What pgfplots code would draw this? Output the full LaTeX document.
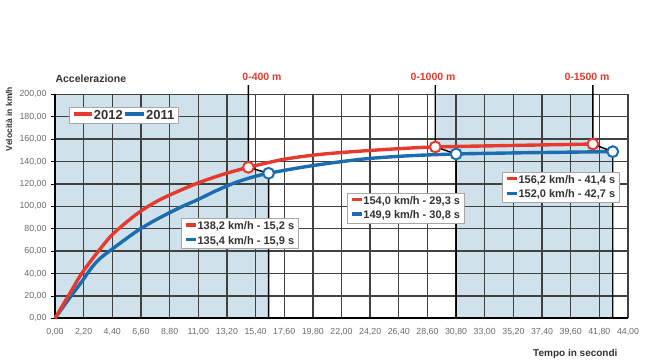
\documentclass[border=0pt]{standalone}
\usepackage{pgfplots}
\pgfplotsset{compat=1.18}
\usepackage{fontspec}
\setmainfont{Liberation Sans}
\definecolor{r12}{HTML}{E63A2E}
\definecolor{b11}{HTML}{1C6DB0}
\definecolor{shade}{HTML}{CFE1EB}
\definecolor{gridc}{HTML}{404040}
\definecolor{txt}{HTML}{333333}
\definecolor{tick}{HTML}{6A6A6A}
\newcommand{\fs}[1]{\fontsize{#1bp}{#1bp}\selectfont}
\newcommand{\dash}[1]{{\color{#1}\rule[0.28em]{10bp}{3.2bp}}}
\begin{document}
\begin{tikzpicture}[x=1bp,y=1bp]
\path (0,0) rectangle (650,360);
\begin{axis}[
  at={(55bp,41.7bp)}, anchor=south west,
  set layers, scale only axis, width=573bp, height=224bp,
  xmin=0, xmax=44, ymin=0, ymax=200, clip=false,
  axis x line*=bottom, axis y line*=left,
  axis line style={black, line width=1.9bp},
  xtick={0,2.2,4.4,6.6,8.8,11,13.2,15.4,17.6,19.8,22,24.2,26.4,28.6,30.8,33,35.2,37.4,39.6,41.8,44},
  xticklabels={{0,00},{2,20},{4,40},{6,60},{8,80},{11,00},{13,20},{15,40},{17,60},{19,80},{22,00},{24,20},{26,40},{28,60},{30,80},{33,00},{35,20},{37,40},{39,60},{41,80},{44,00}},
  ytick={0,20,...,200},
  yticklabels={{0,00},{20,00},{40,00},{60,00},{80,00},{100,00},{120,00},{140,00},{160,00},{180,00},{200,00}},
  xtick style={draw=none},
  ytick style={black, line width=0.8bp},
  tick align=outside, major tick length=4bp,
  tick label style={font=\fs{8.8}, text=tick},
  xticklabel style={yshift=-3bp},
  yticklabel style={xshift=-1bp},
  grid=major, major grid style={draw=gridc, line width=1.35bp},
]
% shaded areas
\addplot[fill=shade, draw=none, on layer=axis background] coordinates {(0,0) (0,200) (14.85,200) (14.85,134.8) (16.4,129.5) (16.4,0)} -- cycle;
\addplot[fill=shade, draw=none, on layer=axis background] coordinates {(29.2,200) (41.3,200) (41.3,155.6) (42.83,148.8) (42.83,0) (30.8,0) (30.8,146.7) (29.2,153)} -- cycle;
% curves
\addplot[b11, line width=3.4bp, smooth] coordinates {
(0,0) (1.05,17) (2.05,32.7) (2.8,45) (3.46,53.5) (4.3,61) (5.4,70.5) (6.5,79.5) (7.6,87) (8.7,93.7) (9.8,100) (10.9,105.6) (12.3,113.5) (13.7,120.5) (15.0,125.5) (16.4,129.5) (19.6,136) (23.5,142) (27,145) (30.8,146.7) (36,147.8) (42.83,148.8)};
\addplot[r12, line width=3.4bp, smooth] coordinates {
(0,0) (1.0,19.5) (2.05,40) (3.2,58) (4.3,73.5) (5.4,85) (6.5,95) (7.6,103) (8.7,109.5) (10.9,120.5) (12.9,128.5) (14.85,134.8) (17.6,142) (20.4,146.4) (23.5,149.3) (26.5,151.5) (29.2,153) (35,154.3) (41.3,155.6)};
% leader lines
\draw[black, line width=1.4bp] (axis cs:14.85,208.3) -- (axis cs:14.85,134.8) -- (axis cs:16.4,129.5) -- (axis cs:16.4,0);
\draw[black, line width=1.4bp] (axis cs:29.2,208.3) -- (axis cs:29.2,153) -- (axis cs:30.8,146.7) -- (axis cs:30.8,0);
\draw[black, line width=1.4bp] (axis cs:41.3,208.3) -- (axis cs:41.3,155.6) -- (axis cs:42.83,148.8) -- (axis cs:42.83,0);
% markers
\addplot[only marks, mark=*, mark size=5.4bp, mark options={fill=white, draw=r12, line width=2bp}] coordinates {(14.85,134.8) (29.2,153) (41.3,155.6)};
\addplot[only marks, mark=*, mark size=5.4bp, mark options={fill=white, draw=b11, line width=2bp}] coordinates {(16.4,129.5) (30.8,146.7) (42.83,148.8)};
% legend
\node[draw=gray!70, fill=white, line width=0.8bp, inner xsep=4bp, inner ysep=3.5bp, font=\fs{13}\bfseries, text=txt] at (axis cs:5.3,181.3)
 {{\color{r12}\rule[0.3em]{18bp}{4.2bp}}\,2012\,{\color{b11}\rule[0.3em]{19bp}{4.2bp}}\,2011};
% annotation boxes
\node[draw=gray!70, fill=white, line width=0.8bp, inner xsep=4bp, inner ysep=3bp, align=left, font=\fs{11}\bfseries, text=txt] at (axis cs:14.2,75.5)
 {\dash{r12}\,138,2 km/h - 15,2 s\\[3.5bp]\dash{b11}\,135,4 km/h - 15,9 s};
\node[draw=gray!70, fill=white, line width=0.8bp, inner xsep=4bp, inner ysep=3bp, align=left, font=\fs{11}\bfseries, text=txt] at (axis cs:26.94,98.3)
 {\dash{r12}\,154,0 km/h - 29,3 s\\[3.5bp]\dash{b11}\,149,9 km/h - 30,8 s};
\node[draw=gray!70, fill=white, line width=0.8bp, inner xsep=4bp, inner ysep=3bp, align=left, font=\fs{11}\bfseries, text=txt] at (axis cs:38.85,116.8)
 {\dash{r12}\,156,2 km/h - 41,4 s\\[3.5bp]\dash{b11}\,152,0 km/h - 42,7 s};
\end{axis}
% outer texts
\node[anchor=west, font=\fs{10.5}\bfseries, text=txt] at (52,281) {Accelerazione};
\node[font=\fs{10.5}\bfseries, text=r12] at (262,283) {0-400 m};
\node[font=\fs{10.5}\bfseries, text=r12] at (433,283) {0-1000 m};
\node[font=\fs{10.5}\bfseries, text=r12] at (587,283) {0-1500 m};
\node[rotate=90, font=\fs{8.5}\bfseries, text=txt] at (9,241) {Velocità in km/h};
\node[anchor=east, font=\fs{10}\bfseries, text=txt] at (621,6) {Tempo in secondi};
\end{tikzpicture}
\end{document}
